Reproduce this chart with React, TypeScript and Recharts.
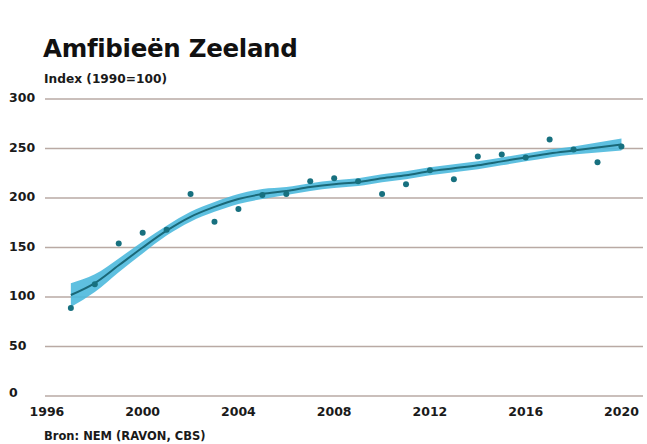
import {
  ComposedChart,
  Area,
  Line,
  Scatter,
  XAxis,
  YAxis,
  CartesianGrid,
} from "recharts";

const years = [
  1997, 1998, 1999, 2000, 2001, 2002, 2003, 2004, 2005, 2006, 2007, 2008,
  2009, 2010, 2011, 2012, 2013, 2014, 2015, 2016, 2017, 2018, 2019, 2020,
];
const indexValues = [
  89, 113, 154, 165, 168, 204, 176, 189, 203, 204, 217, 220,
  217, 204, 214, 228, 219, 242, 244, 241, 259, 249, 236, 252,
];
const trendValues = [
  102, 114, 132, 150, 167, 181, 191, 199, 204, 207, 211, 214,
  216, 220, 223, 227, 230, 233, 237, 241, 245, 248, 251, 254,
];
const bandLow = [
  90, 105, 125, 144, 162, 176, 186, 194, 199, 203, 207, 210,
  212, 216, 219, 223, 226, 229, 233, 237, 241, 244, 246, 248,
];
const bandHigh = [
  114, 123, 139, 156, 172, 186, 196, 204, 209, 211, 215, 218,
  220, 224, 227, 231, 234, 237, 241, 245, 249, 252, 256, 260,
];
const xTicks = [1996, 2000, 2004, 2008, 2012, 2016, 2020];
const yTicks = [0, 50, 100, 150, 200, 250, 300];

const data = years.map((year, i) => ({
  year,
  index: indexValues[i],
  trend: trendValues[i],
  band: [bandLow[i], bandHigh[i]],
}));

const FONT = "'DejaVu Sans', sans-serif";
const TEXT = "#1a1a1a";

function YTick({ y, payload }: { y?: number; payload?: { value: number } }) {
  return (
    <text x={9} y={y} dy={payload?.value === 0 ? 1 : 3} fontSize={12.5} fontWeight={600} fill={TEXT} fontFamily={FONT}>
      {payload?.value}
    </text>
  );
}

function XTick({ x, y, payload }: { x?: number; y?: number; payload?: { value: number } }) {
  return (
    <text x={x} y={y} dy={12} textAnchor="middle" fontSize={12.5} fontWeight={600} fill={TEXT} fontFamily={FONT}>
      {payload?.value}
    </text>
  );
}

export default function App() {
  return (
    <div style={{ position: "absolute", left: 0, top: 0, width: 647, height: 444, background: "#fff", fontFamily: FONT }}>
      <div style={{ position: "absolute", left: 43, top: 34, fontSize: 24.5, fontWeight: 700, color: "#111", letterSpacing: -0.3 }}>
        Amfibieën Zeeland
      </div>
      <div style={{ position: "absolute", left: 44, top: 72, fontSize: 12.2, fontWeight: 600, color: TEXT }}>
        Index (1990=100)
      </div>
      <div style={{ position: "absolute", left: 44, top: 429, fontSize: 11.5, fontWeight: 600, color: TEXT }}>
        Bron: NEM (RAVON, CBS)
      </div>
      <ComposedChart
        width={647}
        height={444}
        data={data}
        margin={{ top: 99, right: 4, bottom: 0, left: 0 }}
      >
        <CartesianGrid vertical={false} stroke="#b9aaa4" strokeWidth={1.3} />
        <XAxis
          dataKey="year"
          type="number"
          domain={[1995.92, 2020.9]}
          ticks={xTicks}
          axisLine={false}
          tickLine={false}
          tick={<XTick />}
          height={48}
          allowDataOverflow
        />
        <YAxis
          domain={[0, 300]}
          ticks={yTicks}
          axisLine={false}
          tickLine={false}
          tick={<YTick />}
          width={45}
        />
        <Area
          dataKey="band"
          type="monotone"
          stroke="none"
          fill="#4cb9dd"
          fillOpacity={0.9}
          isAnimationActive={false}
        />
        <Line
          dataKey="trend"
          type="monotone"
          stroke="#1a6878"
          strokeWidth={2}
          dot={false}
          isAnimationActive={false}
        />
        <Scatter dataKey="index" fill="#17707f" shape={(p: any) => <circle cx={p.cx} cy={p.cy} r={3} fill="#17707f" />} isAnimationActive={false} />
      </ComposedChart>
    </div>
  );
}
